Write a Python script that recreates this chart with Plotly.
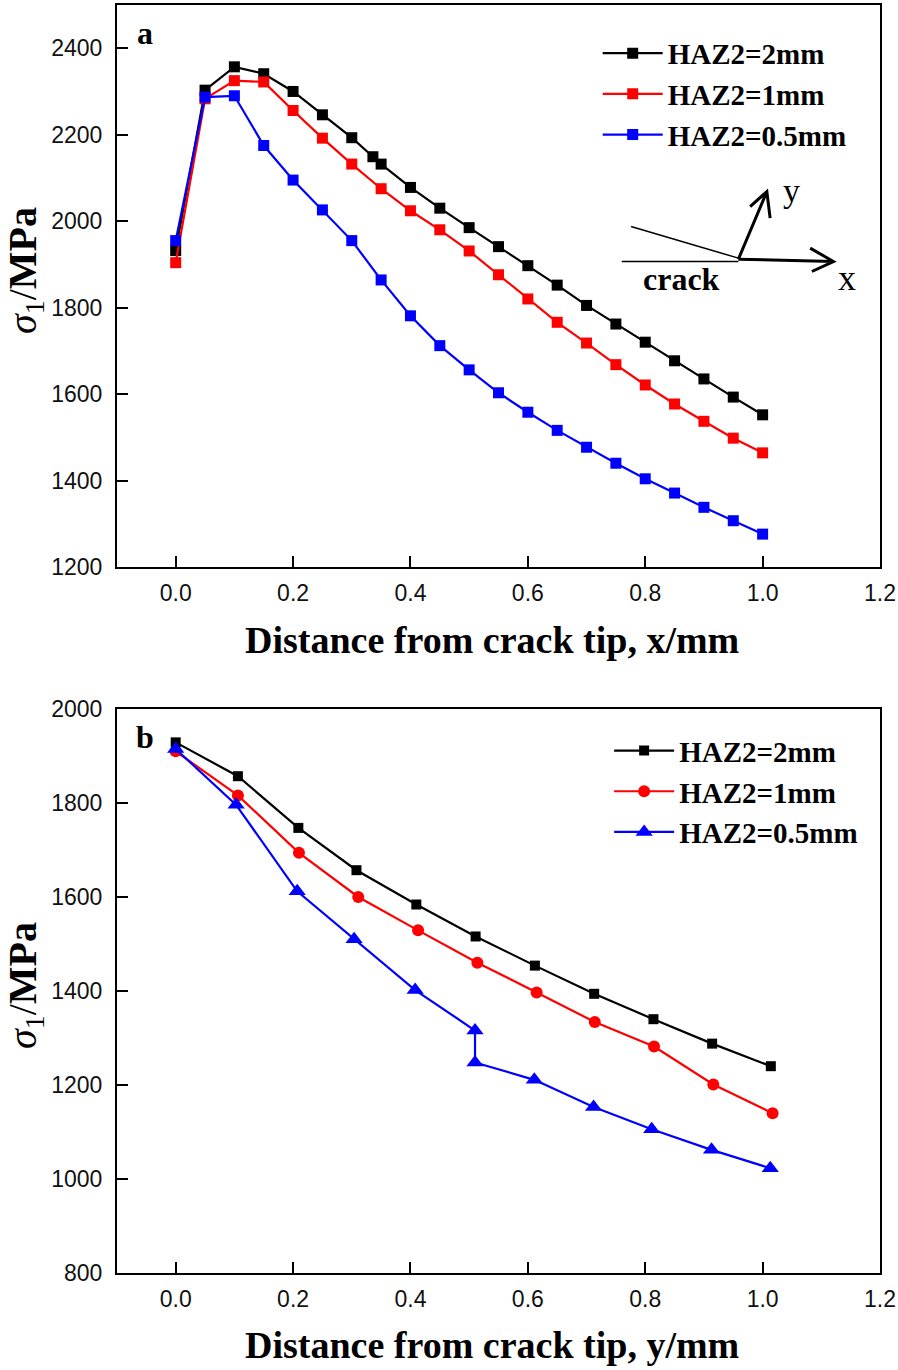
import plotly.graph_objects as go

# ---- Panel a data (distance along x) ----
xa_black = [0.0, 0.05, 0.1, 0.15, 0.2, 0.25, 0.3, 0.336, 0.35, 0.4, 0.45, 0.5, 0.55, 0.6, 0.65, 0.7, 0.75, 0.8, 0.85, 0.9, 0.95, 1.0]
ya_black = [1932, 2303, 2357, 2341, 2300, 2246, 2193, 2149, 2132, 2078, 2030, 1985, 1941, 1897, 1852, 1805, 1762, 1720, 1677, 1635, 1593, 1552]
xa_std = [0.0, 0.05, 0.1, 0.15, 0.2, 0.25, 0.3, 0.35, 0.4, 0.45, 0.5, 0.55, 0.6, 0.65, 0.7, 0.75, 0.8, 0.85, 0.9, 0.95, 1.0]
ya_red = [1904, 2283, 2325, 2322, 2256, 2192, 2132, 2075, 2024, 1980, 1931, 1876, 1820, 1766, 1718, 1668, 1621, 1577, 1537, 1498, 1464]
ya_blue = [1955, 2287, 2290, 2175, 2095, 2026, 1955, 1864, 1781, 1712, 1656, 1603, 1558, 1516, 1477, 1440, 1404, 1371, 1338, 1307, 1276]

# ---- Panel b data (distance along y) ----
xb_black = [0.0, 0.106, 0.209, 0.308, 0.41, 0.511, 0.612, 0.713, 0.814, 0.914, 1.014]
yb_black = [1929, 1857, 1747, 1657, 1584, 1516, 1454, 1394, 1340, 1288, 1240]
xb_red = [0.0, 0.106, 0.21, 0.311, 0.413, 0.514, 0.615, 0.714, 0.815, 0.916, 1.017]
yb_red = [1910, 1816, 1694, 1600, 1529, 1460, 1397, 1334, 1282, 1201, 1140]
xb_blue = [0.0, 0.103, 0.207, 0.304, 0.408, 0.51, 0.51, 0.611, 0.712, 0.811, 0.913, 1.013]
yb_blue = [1915, 1796, 1612, 1510, 1402, 1316, 1248, 1211, 1153, 1106, 1062, 1023]

names = ["HAZ2=2mm", "HAZ2=1mm", "HAZ2=0.5mm"]
colors = ["#000000", "#FF0000", "#0000FF"]

x_ticks = [0.0, 0.2, 0.4, 0.6, 0.8, 1.0, 1.2]
ya_ticks = [1200, 1400, 1600, 1800, 2000, 2200, 2400]
yb_ticks = [800, 1000, 1200, 1400, 1600, 1800, 2000]

SERIF = "Liberation Serif"
SANS = "Liberation Sans"

fig = go.Figure()

# panel a
for xs, ys, nm, c in [(xa_black, ya_black, names[0], colors[0]),
                      (xa_std, ya_red, names[1], colors[1]),
                      (xa_std, ya_blue, names[2], colors[2])]:
    fig.add_trace(go.Scatter(x=xs, y=ys, name=nm, mode="lines+markers",
                             line=dict(color=c, width=2.2),
                             marker=dict(symbol="square", size=11, color=c),
                             xaxis="x", yaxis="y", legend="legend"))

# panel b
for xs, ys, nm, c, sym, sz in [(xb_black, yb_black, names[0], colors[0], "square", 10),
                               (xb_red, yb_red, names[1], colors[1], "circle", 12),
                               (xb_blue, yb_blue, names[2], colors[2], "triangle-up", 15)]:
    fig.add_trace(go.Scatter(x=xs, y=ys, name=nm, mode="lines+markers",
                             line=dict(color=c, width=2.2),
                             marker=dict(symbol=sym, size=sz, color=c),
                             xaxis="x2", yaxis="y2", legend="legend2"))

axis_common = dict(showline=True, linecolor="black", linewidth=2, mirror=True,
                   ticks="inside", ticklen=11, tickwidth=1.5, tickcolor="black",
                   showgrid=False, zeroline=False, automargin=False,
                   tickfont=dict(family=SANS, size=23, color="#111"))

fig.update_layout(
    width=898, height=1370, autosize=False,
    margin=dict(l=117, r=18, t=5, b=97),
    plot_bgcolor="white", paper_bgcolor="white",
    showlegend=True,
    xaxis=dict(domain=[0, 1], anchor="y", range=[-0.1, 1.2], tickvals=x_ticks,
               tickformat=".1f", ticklabelstandoff=4, **axis_common),
    yaxis=dict(domain=[0.5568, 1], anchor="x", range=[1200, 2500], tickvals=ya_ticks,
               ticklabelstandoff=8, **axis_common),
    xaxis2=dict(domain=[0, 1], anchor="y2", range=[-0.1, 1.2], tickvals=x_ticks,
                tickformat=".1f", ticklabelstandoff=4, **axis_common),
    yaxis2=dict(domain=[0, 0.4448], anchor="x2", range=[800, 2000], tickvals=yb_ticks,
                ticklabelstandoff=8, **axis_common),
    legend=dict(x=0.630, y=0.982, xanchor="left", yanchor="top",
                bgcolor="rgba(0,0,0,0)", itemwidth=60,
                font=dict(family=SERIF, size=29, color="black", weight="bold")),
    legend2=dict(x=0.645, y=0.432, xanchor="left", yanchor="top",
                 bgcolor="rgba(0,0,0,0)", itemwidth=60,
                 font=dict(family=SERIF, size=29, color="black", weight="bold")),
)

ann = []
# axis titles
for yy in [0.4992, -0.0568]:
    ann.append(dict(xref="paper", yref="paper", x=0.4915, y=yy, showarrow=False,
                    text="<b>Distance from crack tip, %s/mm</b>" % ("x" if yy > 0 else "y"),
                    font=dict(family=SERIF, size=38, color="black"),
                    xanchor="center", yanchor="middle"))
for yy in [0.791, 0.2271]:
    ann.append(dict(xref="paper", yref="paper", x=-0.1206, y=yy, showarrow=False,
                    text="<i>σ</i><sub>1</sub>/<b>MPa</b>", textangle=-90,
                    font=dict(family=SERIF, size=40, color="black"),
                    xanchor="center", yanchor="middle"))
# panel labels
ann.append(dict(xref="paper", yref="paper", x=0.0367, y=0.978, text="<b>a</b>", showarrow=False,
                font=dict(family=SERIF, size=32, color="black"), xanchor="center", yanchor="middle"))
ann.append(dict(xref="paper", yref="paper", x=0.0367, y=0.4227, text="<b>b</b>", showarrow=False,
                font=dict(family=SERIF, size=32, color="black"), xanchor="center", yanchor="middle"))
# crack sketch labels
ann.append(dict(xref="x", yref="y", x=1.0498, y=2070, text="y", showarrow=False,
                font=dict(family=SERIF, size=34, color="black"), xanchor="center", yanchor="middle"))
ann.append(dict(xref="x", yref="y", x=1.1436, y=1868, text="x", showarrow=False,
                font=dict(family=SERIF, size=36, color="black"), xanchor="center", yanchor="middle"))
ann.append(dict(xref="x", yref="y", x=0.862, y=1866, text="<b>crack</b>", showarrow=False,
                font=dict(family=SERIF, size=32, color="black"), xanchor="center", yanchor="middle"))
fig.update_layout(annotations=ann)

shapes = [
    dict(type="line", xref="x", yref="y", x0=0.7758, y0=1987.5, x1=0.9587, y1=1914.4,
         line=dict(color="black", width=1.5)),
    dict(type="line", xref="x", yref="y", x0=0.760, y0=1906.6, x1=0.9587, y1=1906.6,
         line=dict(color="black", width=1.5)),
    dict(type="path", xref="x", yref="y",
         path="M 0.9587 1912 L 1.1207 1906.6 M 1.081 1937.6 L 1.1207 1906.6 L 1.0839 1883.5",
         line=dict(color="black", width=3)),
    dict(type="path", xref="x", yref="y",
         path="M 0.9587 1912 L 1.0072 2068.4 M 0.9787 2033.8 L 1.0072 2068.4 L 1.0128 2006.9",
         line=dict(color="black", width=3)),
]
fig.update_layout(shapes=shapes)

fig.write_html("out.html", config={"displayModeBar": False},
               post_script="document.body.style.margin='0';document.body.style.padding='0';document.body.style.overflow='hidden';")
